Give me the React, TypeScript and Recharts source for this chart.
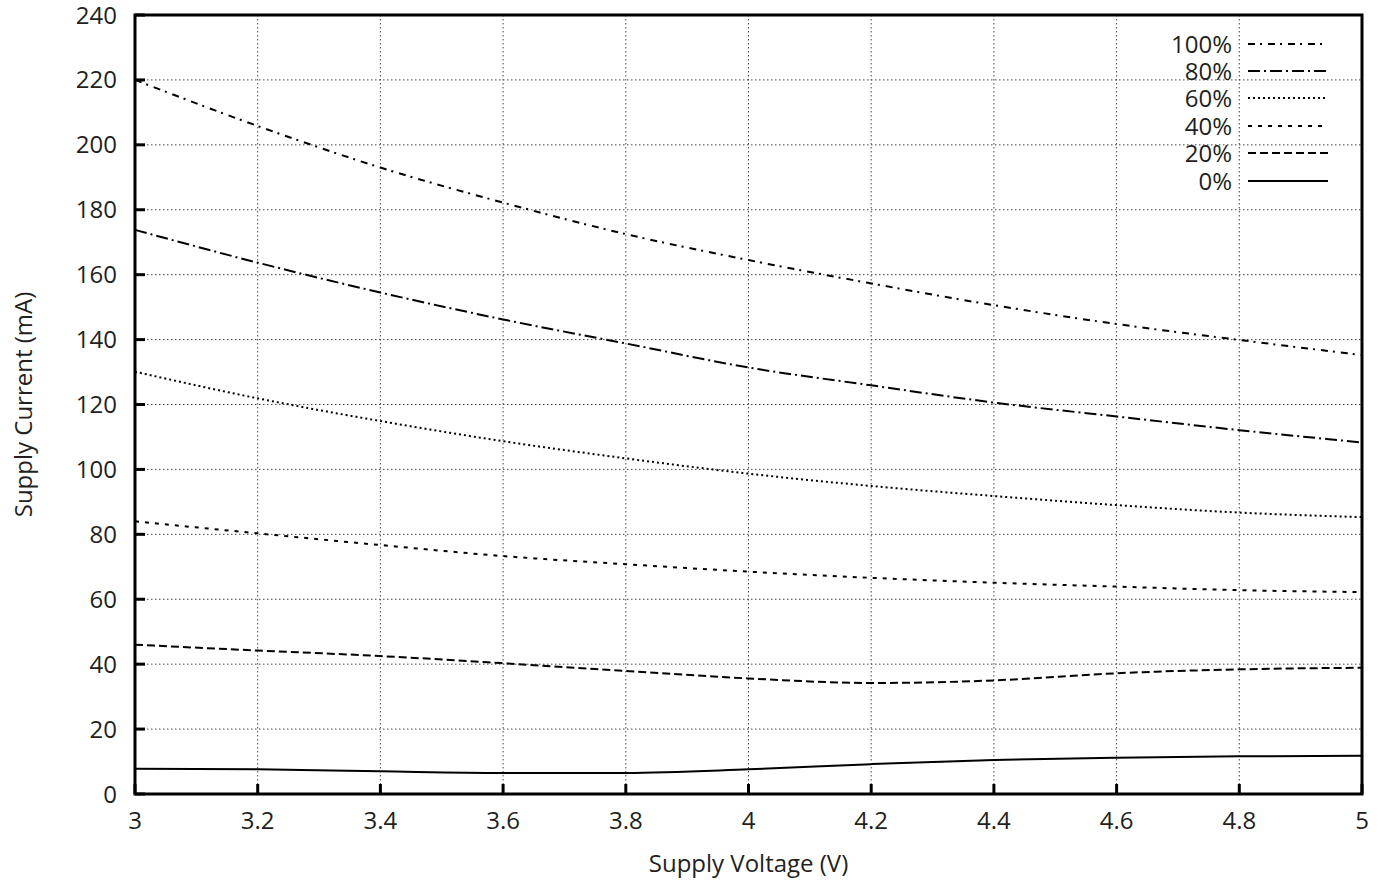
import React from "react";
import {
  LineChart,
  Line,
  XAxis,
  YAxis,
  CartesianGrid,
  ReferenceArea,
} from "recharts";

const voltages = [3, 3.2, 3.4, 3.6, 3.8, 4, 4.2, 4.4, 4.6, 4.8, 5];
const xTicks = [3, 3.2, 3.4, 3.6, 3.8, 4, 4.2, 4.4, 4.6, 4.8, 5];
const yTicks = [0, 20, 40, 60, 80, 100, 120, 140, 160, 180, 200, 220, 240];

const load100 = [220, 205.8, 193, 182.2, 172.5, 164.5, 157.3, 150.6, 144.8, 139.9, 135.2];
const load80 = [173.8, 163.7, 154.5, 146.2, 138.8, 131.4, 125.9, 120.6, 116.3, 112.1, 108.3];
const load60 = [130.1, 121.9, 114.9, 108.7, 103.4, 98.7, 94.9, 91.8, 89, 86.7, 85.3];
const load40 = [84, 80.3, 76.7, 73.3, 70.8, 68.5, 66.6, 65.1, 63.9, 62.8, 62.2];
const load20 = [46, 44.2, 42.5, 40.3, 37.9, 35.6, 34.2, 35, 37.2, 38.4, 38.9];
const load0 = [7.8, 7.6, 7.0, 6.5, 6.5, 7.6, 9.2, 10.5, 11.2, 11.6, 11.8];

const textColor = "#231f20";
const font = "'Open Sans', sans-serif";
const fontSize = 24;

// series in legend order, with gnuplot-like dash patterns
const series = [
  { key: "p100", name: "100%", values: load100, dash: "7 5 2 6" },
  { key: "p80", name: "80%", values: load80, dash: "12 4 2 4" },
  { key: "p60", name: "60%", values: load60, dash: "2 3" },
  { key: "p40", name: "40%", values: load40, dash: "4 6" },
  { key: "p20", name: "20%", values: load20, dash: "8 4" },
  { key: "p0", name: "0%", values: load0, dash: undefined },
];

const data = voltages.map((v, i) => {
  const row: any = { v };
  series.forEach((s) => (row[s.key] = s.values[i]));
  return row;
});

// drawn as an overlay so it doesn't steal width from the plot
function LegendBox() {
  return (
    <div
      style={{
        position: "absolute",
        left: 1124,
        top: 30,
        fontFamily: font,
        fontSize: fontSize,
        color: textColor,
        pointerEvents: "none",
      }}
    >
      {series.map((s) => (
        <div
          key={s.key}
          style={{ display: "flex", alignItems: "center", height: 27.4 }}
        >
          <span style={{ width: 108, textAlign: "right", lineHeight: "26px" }}>
            {s.name}
          </span>
          <svg width={100} height={10} style={{ marginLeft: 16 }}>
            <line
              x1={0}
              x2={80}
              y1={5}
              y2={5}
              stroke="#000"
              strokeWidth={2}
              strokeDasharray={s.dash}
            />
          </svg>
        </div>
      ))}
    </div>
  );
}

function YLabel() {
  const cy = 15 + 779 / 2;
  return (
    <text
      x={22}
      y={cy}
      transform={`rotate(-90, 22, ${cy})`}
      textAnchor="middle"
      dominantBaseline="central"
      fill={textColor}
      fontSize={fontSize}
      fontFamily={font}
    >
      Supply Current (mA)
    </text>
  );
}

export default function App() {
  return (
    <div style={{ position: "absolute", left: 0, top: 0, background: "#fff" }}>
      <LineChart
        width={1383}
        height={880}
        data={data}
        margin={{ top: 15, right: 21, bottom: 0, left: 0 }}
      >
        <CartesianGrid
          stroke="#444"
          strokeDasharray="1.5 2.5"
          strokeWidth={1}
          horizontalValues={yTicks}
          verticalValues={xTicks}
        />
        <XAxis
          dataKey="v"
          type="number"
          domain={[3, 5]}
          ticks={xTicks}
          interval={0}
          height={86}
          axisLine={false}
          tickSize={-10}
          tickMargin={28}
          tickLine={{ stroke: "#000", strokeWidth: 3 }}
          tick={{ fill: textColor, fontSize: fontSize, fontFamily: font }}
          label={{
            value: "Supply Voltage (V)",
            position: "insideBottom",
            offset: 8,
            fill: textColor,
            fontSize: fontSize,
            fontFamily: font,
          }}
        />
        <YAxis
          type="number"
          domain={[0, 240]}
          ticks={yTicks}
          interval={0}
          width={135}
          axisLine={false}
          tickSize={-10}
          tickMargin={28}
          tickLine={{ stroke: "#000", strokeWidth: 3 }}
          tick={{ fill: textColor, fontSize: fontSize, fontFamily: font }}
          label={<YLabel />}
        />
        <ReferenceArea
          x1={3}
          x2={5}
          y1={0}
          y2={240}
          fill="none"
          stroke="#000"
          strokeWidth={3}
          ifOverflow="visible"
        />
        {series.map((s) => (
          <Line
            key={s.key}
            dataKey={s.key}
            name={s.name}
            type="monotone"
            stroke="#000"
            strokeWidth={2}
            strokeDasharray={s.dash}
            dot={false}
            activeDot={false}
            isAnimationActive={false}
          />
        ))}
      </LineChart>
      <LegendBox />
    </div>
  );
}
